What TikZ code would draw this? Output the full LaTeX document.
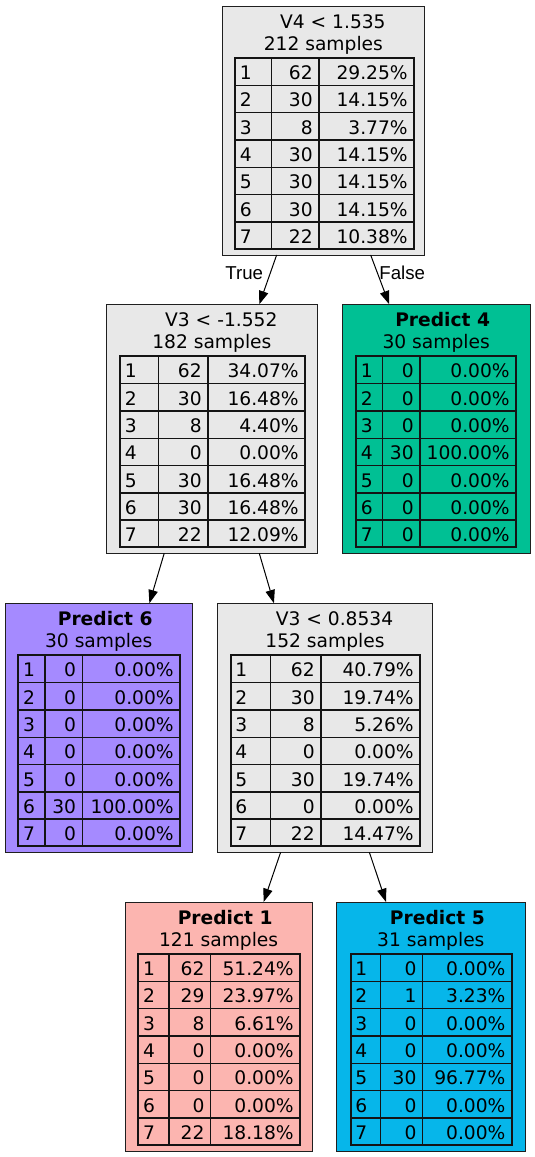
\documentclass[tikz,border=0pt]{standalone}
\usepackage{fontspec}
\setmainfont{DejaVu Sans}
\newfontfamily\edgefont{Liberation Sans}
\usetikzlibrary{arrows.meta,calc}

\definecolor{splitgray}{HTML}{E8E8E8}
\definecolor{clsone}{HTML}{FCB5B0}
\definecolor{clsfour}{HTML}{00C094}
\definecolor{clsfive}{HTML}{06B6EA}
\definecolor{clssix}{HTML}{A58AFF}
\colorlet{inkline}{black!88}

\tikzset{
  dtbox/.style={draw=inkline, line width=0.75pt, inner sep=0pt, outer sep=0pt,
    minimum height=186.75pt, anchor=north west},
  txt/.style={inner sep=0pt, font=\fontsize{14pt}{17pt}\selectfont},
  tabouter/.style={line width=1.6pt, draw=black!92},
  tabinner/.style={line width=1.05pt, draw=black!92},
  edge/.style={line width=0.75pt, draw=black, -{Triangle[length=10pt,width=7pt]}},
  edgelabel/.style={inner sep=0pt, font=\edgefont\fontsize{14pt}{17pt}\selectfont},
}

% box of a tree node: #1 name, #2 left, #3 top, #4 right, #5 fill,
% #6 heading, #7 heading offset, #8 sample count line
\newcommand\dtnode[8]{%
  \node[dtbox, fill=#5, minimum width={(#4-#2)*0.75pt}] (#1) at (#2,#3) {};
  \node[txt, anchor=base] (#1-head) at ($(#1.north)+(#7,22)$) {#6};
  \node[txt, anchor=base] (#1-size) at ($(#1.north)+(0,44)$) {#8};
}

% class table: #1 name, #2 top, #3..#6 column rules, #7 rows class/count/percent
\newcommand\dttable[7]{%
  \foreach \rc/\rn/\rp [count=\ri from 0] in {#7} {
    \pgfmathsetmacro\yb{#2+\ri*27.3+21.5}
    \node[txt, anchor=base west] (#1-c\ri) at (#3+4.5,\yb) {\rc};
    \node[txt, anchor=base east] (#1-n\ri) at (#5-6,\yb) {\rn};
    \node[txt, anchor=base east] (#1-p\ri) at (#6-6,\yb) {\rp\%};
  }
  \foreach \k in {1,...,6} {
    \draw[tabinner] (#3,#2+\k*27.3) -- (#6,#2+\k*27.3);
  }
  \draw[tabinner] (#4,#2) -- (#4,#2+191.1);
  \draw[tabinner] (#5,#2) -- (#5,#2+191.1);
  \draw[tabouter] (#3,#2) rectangle (#6,#2+191.1);
}

\begin{document}
\begin{tikzpicture}[x=0.75pt,y=-0.75pt]
\useasboundingbox (0,0) rectangle (535,1157);

% split nodes
\dtnode{root}{222.7}{6}{424}{splitgray}{V4 < 1.535}{9.5}{212 samples}
\dttable{root}{58}{235}{271.7}{319}{414}{1/62/29.25,2/30/14.15,3/8/3.77,4/30/14.15,5/30/14.15,6/30/14.15,7/22/10.38}

\dtnode{left}{106}{304.3}{317.7}{splitgray}{V3 < -1.552}{9.5}{182 samples}
\dttable{left}{356.3}{120}{158.3}{208}{305}{1/62/34.07,2/30/16.48,3/8/4.40,4/0/0.00,5/30/16.48,6/30/16.48,7/22/12.09}

\dtnode{mid}{217.3}{603.3}{432.7}{splitgray}{V3 < 0.8534}{9.5}{152 samples}
\dttable{mid}{655.3}{230.7}{270.7}{321}{420}{1/62/40.79,2/30/19.74,3/8/5.26,4/0/0.00,5/30/19.74,6/0/0.00,7/22/14.47}

% leaves
\dtnode{leaffour}{342.3}{304.3}{530}{clsfour}{\textbf{Predict 4}}{6.5}{30 samples}
\dttable{leaffour}{356.3}{356}{382.3}{420}{516}{1/0/0.00,2/0/0.00,3/0/0.00,4/30/100.00,5/0/0.00,6/0/0.00,7/0/0.00}

\dtnode{leafsix}{5}{603.3}{192.5}{clssix}{\textbf{Predict 6}}{6.5}{30 samples}
\dttable{leafsix}{655.3}{18.3}{45}{82.3}{180}{1/0/0.00,2/0/0.00,3/0/0.00,4/0/0.00,5/0/0.00,6/30/100.00,7/0/0.00}

\dtnode{leafone}{125}{902}{312.3}{clsone}{\textbf{Predict 1}}{6.5}{121 samples}
\dttable{leafone}{954}{138.3}{169}{210.7}{300}{1/62/51.24,2/29/23.97,3/8/6.61,4/0/0.00,5/0/0.00,6/0/0.00,7/22/18.18}

\dtnode{leaffive}{336.7}{902}{525}{clsfive}{\textbf{Predict 5}}{6.5}{31 samples}
\dttable{leaffive}{954}{350.7}{380.7}{422.7}{511.7}{1/0/0.00,2/1/3.23,3/0/0.00,4/0/0.00,5/30/96.77,6/0/0.00,7/0/0.00}

% connectors
\draw[edge] ($(root.south west)!0.268!(root.south east)$) -- ($(left.north west)!0.724!(left.north east)$)
  node[edgelabel, pos=0.37, anchor=east, xshift=-5pt] (truelabel) {True};
\draw[edge] ($(root.south west)!0.735!(root.south east)$) -- ($(leaffour.north west)!0.25!(leaffour.north east)$)
  node[edgelabel, pos=0.37, anchor=west, xshift=1pt] (falselabel) {False};
\draw[edge] ($(left.south west)!0.275!(left.south east)$) -- ($(leafsix.north west)!0.77!(leafsix.north east)$);
\draw[edge] ($(left.south west)!0.724!(left.south east)$) -- ($(mid.north west)!0.263!(mid.north east)$);
\draw[edge] ($(mid.south west)!0.294!(mid.south east)$) -- ($(leafone.north west)!0.74!(leafone.north east)$);
\draw[edge] ($(mid.south west)!0.706!(mid.south east)$) -- ($(leaffive.north west)!0.262!(leaffive.north east)$);
\end{tikzpicture}
\end{document}
